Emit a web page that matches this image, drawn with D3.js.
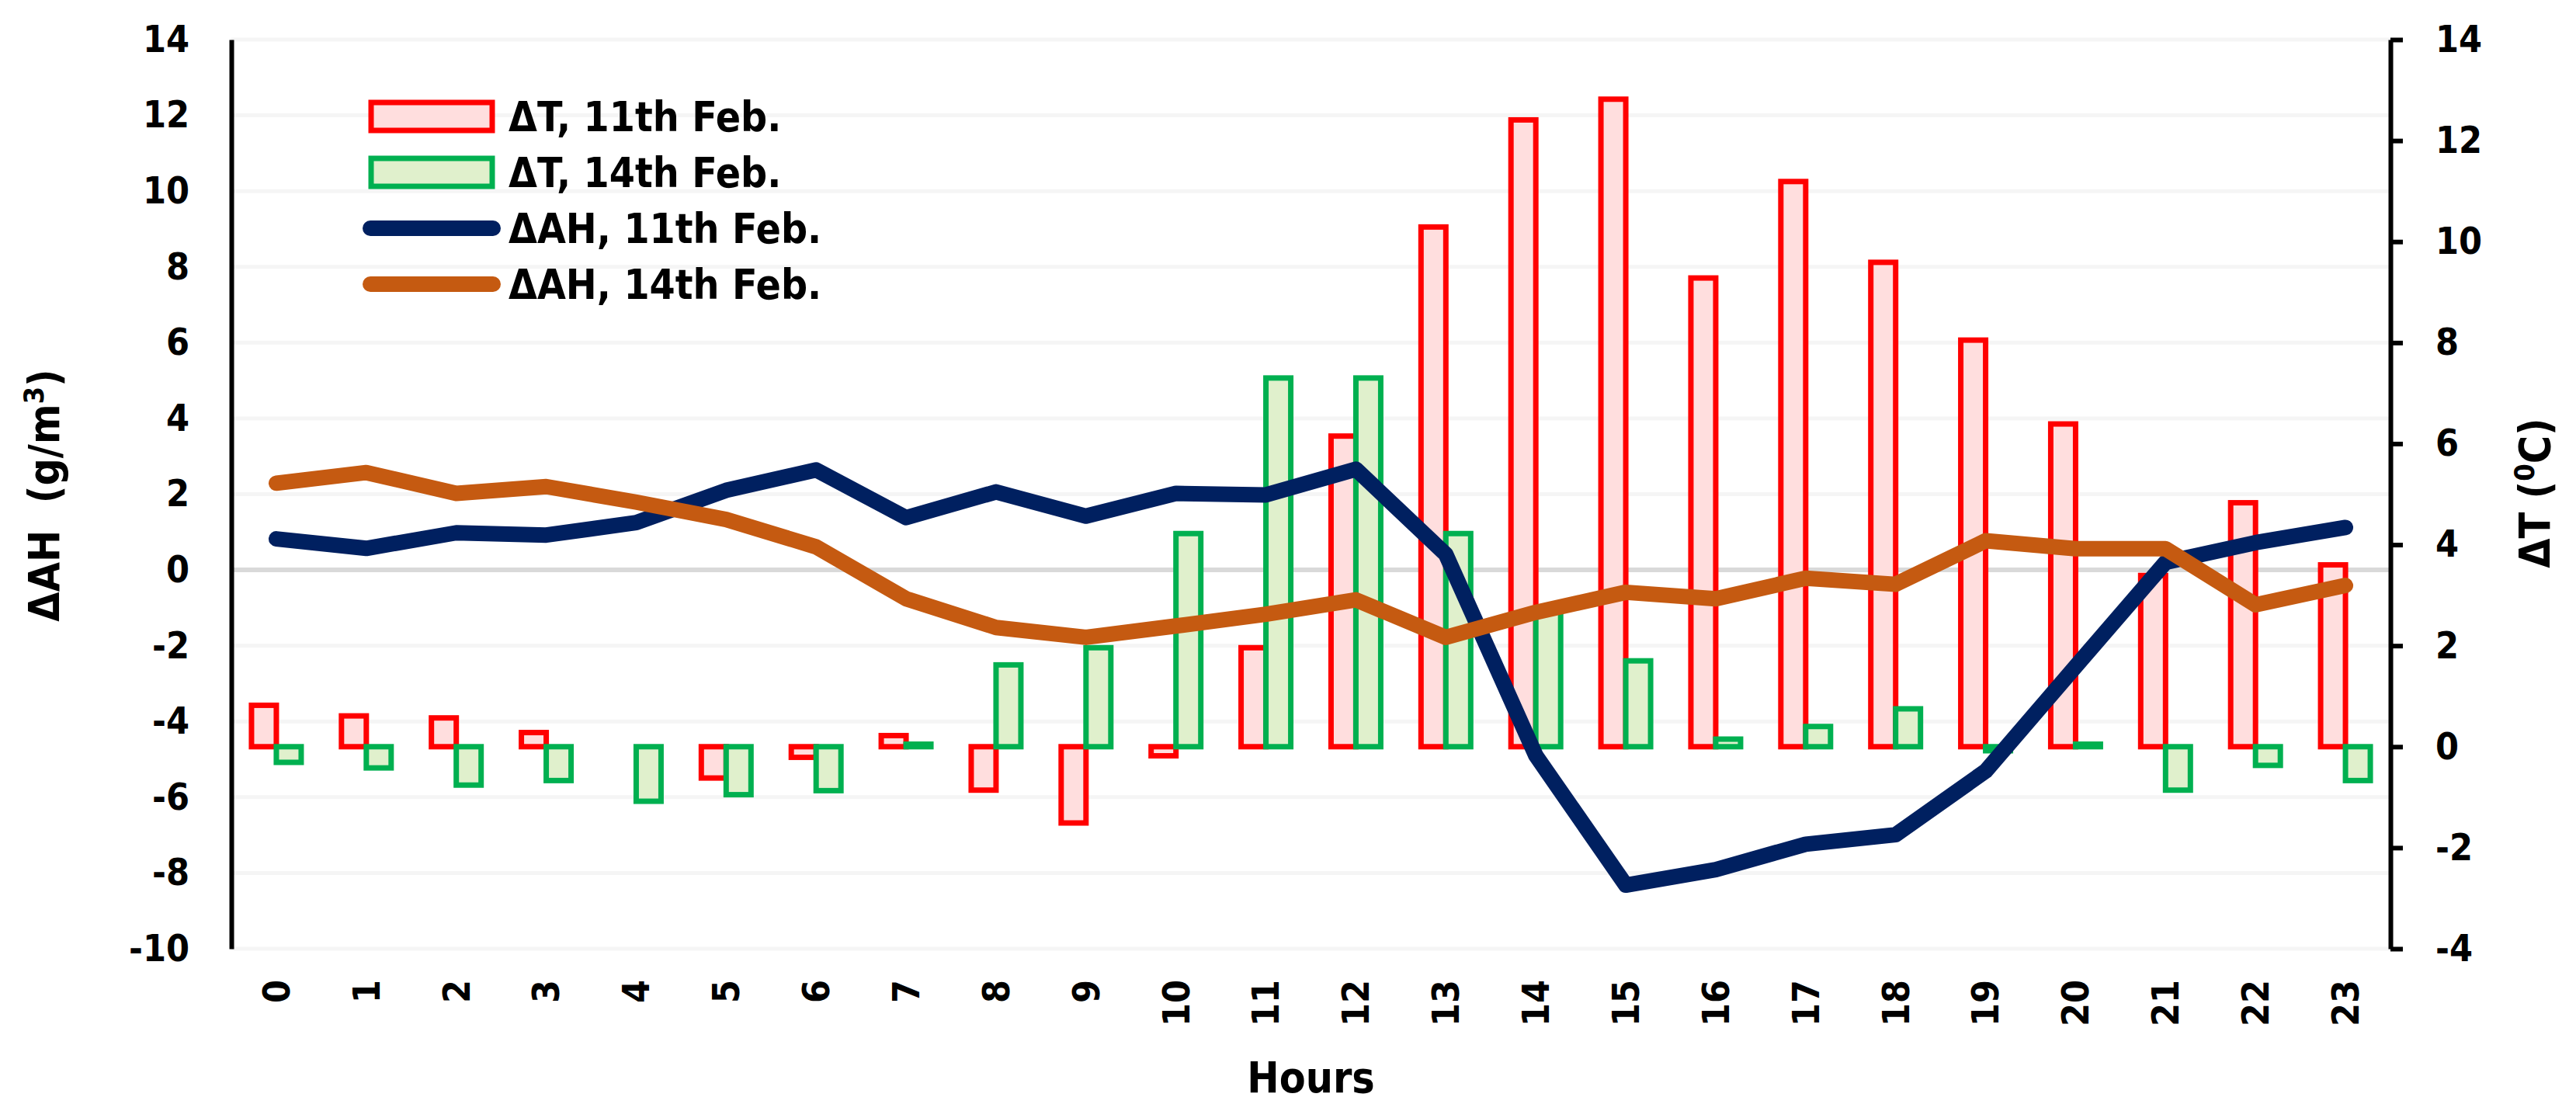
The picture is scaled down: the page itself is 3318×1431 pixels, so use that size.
<!DOCTYPE html>
<html>
<head>
<meta charset="utf-8">
<script src="https://cdn.jsdelivr.net/npm/d3@7"></script>
<style>
  body { margin: 0; background: #fff; }
  text { font-family: "DejaVu Sans Condensed", "DejaVu Sans", sans-serif; font-weight: bold; fill: #000; white-space: pre; }
</style>
</head>
<body>
<svg id="chart"></svg>
<script>
// hours on the x axis
var hours = d3.range(0, 24).map(String);

// bar series, right axis (deg C)
var dT11 = [0.82,0.61,0.57,0.28,0,-0.62,-0.21,0.22,-0.86,-1.51,-0.18,1.96,6.15,10.29,12.41,12.82,9.28,11.19,9.59,8.05,6.39,3.39,4.83,3.6];
var dT14 = [-0.31,-0.42,-0.76,-0.67,-1.08,-0.95,-0.87,0.05,1.62,1.96,4.22,7.30,7.30,4.22,2.7,1.7,0.15,0.40,0.75,-0.08,0.05,-0.86,-0.37,-0.67];

// line series, left axis (g/m3)
var dAH11 = [0.82,0.57,0.98,0.92,1.25,2.1,2.64,1.38,2.06,1.42,2.02,1.98,2.66,0.41,-4.9,-8.32,-7.91,-7.24,-6.99,-5.31,-2.55,0.2,0.72,1.12];
var dAH14 = [2.29,2.57,2.02,2.2,1.79,1.33,0.61,-0.76,-1.52,-1.78,-1.48,-1.17,-0.79,-1.78,-1.12,-0.59,-0.76,-0.22,-0.38,0.77,0.56,0.56,-0.92,-0.41];

var leftTicks = d3.range(-10, 15, 2);
var rightTicks = d3.range(-4, 15, 2);

var screen = {width:3318, height:1431};
var plot = {left:298, right:3079, top:51, bottom:1222};

var svg = d3.select("#chart")
    .attr("width", screen.width)
    .attr("height", screen.height);

var xScale = d3.scaleBand()
    .domain(hours)
    .range([plot.left, plot.right]);

var subScale = d3.scaleBand()
    .domain(["d11","d14"])
    .range([-32, 32]);

var yLeft = d3.scaleLinear()
    .domain([-10, 14])
    .range([plot.bottom, plot.top]);

var yRight = d3.scaleLinear()
    .domain([-4, 14])
    .range([plot.bottom, plot.top]);

// plain hyphen minus like the original
var fmt = function(d){ return String(d); };

//faint gridlines
svg.append("g")
    .selectAll("line")
    .data(leftTicks)
    .enter()
    .append("line")
    .attr("x1", plot.left)
    .attr("x2", plot.right)
    .attr("y1", function(d){ return yLeft(d); })
    .attr("y2", function(d){ return yLeft(d); })
    .attr("stroke", "#f5f5f5")
    .attr("stroke-width", 5);

//zero line
svg.append("line")
    .attr("x1", plot.left)
    .attr("x2", plot.right)
    .attr("y1", yLeft(0))
    .attr("y2", yLeft(0))
    .attr("stroke", "#d9d9d9")
    .attr("stroke-width", 6);

var barSeries = [
    {key:"d11", values:dT11, stroke:"#ff0000", fill:"#ffdede"},
    {key:"d14", values:dT14, stroke:"#00b050", fill:"#e0f0cc"}
];

barSeries.forEach(function(s)
{
    svg.append("g")
        .selectAll("rect")
        .data(s.values.map(function(v,i){ return {h:hours[i], v:v}; })
              .filter(function(d){ return d.v !== 0; }))
        .enter()
        .append("rect")
        .attr("x", function(d){ return xScale(d.h) + xScale.bandwidth()/2 + subScale(s.key); })
        .attr("width", subScale.bandwidth())
        .attr("y", function(d){ return Math.min(yRight(d.v), yRight(0)); })
        .attr("height", function(d){ return Math.abs(yRight(d.v) - yRight(0)); })
        .attr("fill", s.fill)
        .attr("stroke", s.stroke)
        .attr("stroke-width", 7);
});

var lineSeries = [
    {values:dAH11, color:"#002060"},
    {values:dAH14, color:"#c55a11"}
];

var line = d3.line()
    .x(function(d,i){ return xScale(hours[i]) + xScale.bandwidth()/2; })
    .y(function(d){ return yLeft(d); });

lineSeries.forEach(function(s)
{
    svg.append("path")
        .datum(s.values)
        .attr("d", line)
        .attr("fill", "none")
        .attr("stroke", s.color)
        .attr("stroke-width", 20)
        .attr("stroke-linejoin", "round")
        .attr("stroke-linecap", "round");
});

//axes
var leftAxis = svg.append("g")
    .attr("transform", "translate(" + plot.left + ",0)")
    .call(d3.axisLeft(yLeft).tickValues(leftTicks).tickFormat(fmt).tickSize(0).tickPadding(54));
leftAxis.select(".domain").attr("stroke", "#000").attr("stroke-width", 6);
leftAxis.selectAll("text").style("font-size", "48px");

var rightAxis = svg.append("g")
    .attr("transform", "translate(" + plot.right + ",0)")
    .call(d3.axisRight(yRight).tickValues(rightTicks).tickFormat(fmt).tickSize(16).tickSizeOuter(0).tickPadding(42));
rightAxis.select(".domain").attr("stroke", "#000").attr("stroke-width", 6);
rightAxis.selectAll(".tick line").attr("stroke", "#000").attr("stroke-width", 6);
rightAxis.selectAll("text").style("font-size", "48px");

var xAxis = svg.append("g")
    .attr("transform", "translate(0," + plot.bottom + ")")
    .call(d3.axisBottom(xScale).tickSize(0));
xAxis.select(".domain").remove();
xAxis.selectAll("text")
    .style("font-size", "48px")
    .attr("transform", "rotate(-90)")
    .attr("x", -40)
    .attr("y", 0)
    .attr("dy", "0.35em")
    .attr("text-anchor", "end");

//axis titles
var leftTitle = svg.append("text")
    .attr("transform", "translate(76,638) rotate(-90)")
    .attr("text-anchor", "middle")
    .style("font-size", "55px");
leftTitle.append("tspan").text("ΔAH  (g/m");
leftTitle.append("tspan").attr("baseline-shift", "super").style("font-size", "36px").text("3");
leftTitle.append("tspan").text(")");

var rightTitle = svg.append("text")
    .attr("transform", "translate(3284,635) rotate(-90)")
    .attr("text-anchor", "middle")
    .style("font-size", "55px");
rightTitle.append("tspan").text("ΔT (");
rightTitle.append("tspan").attr("baseline-shift", "super").style("font-size", "36px").text("0");
rightTitle.append("tspan").text("C)");

svg.append("text")
    .attr("x", (plot.left + plot.right)/2)
    .attr("y", 1407)
    .attr("text-anchor", "middle")
    .style("font-size", "55px")
    .text("Hours");

//legend
var legendItems = [
    {label:"ΔT, 11th Feb.", type:"bar", stroke:"#ff0000", fill:"#ffdede"},
    {label:"ΔT, 14th Feb.", type:"bar", stroke:"#00b050", fill:"#e0f0cc"},
    {label:"ΔAH, 11th Feb.", type:"line", stroke:"#002060"},
    {label:"ΔAH, 14th Feb.", type:"line", stroke:"#c55a11"}
];

var legend = svg.append("g")
    .selectAll("g")
    .data(legendItems)
    .enter()
    .append("g")
    .attr("transform", function(d,i){ return "translate(475," + (150 + i*72) + ")"; });

legend.filter(function(d){ return d.type == "bar"; })
    .append("rect")
    .attr("x", 3)
    .attr("y", -18)
    .attr("width", 156)
    .attr("height", 36)
    .attr("fill", function(d){ return d.fill; })
    .attr("stroke", function(d){ return d.stroke; })
    .attr("stroke-width", 7);

legend.filter(function(d){ return d.type == "line"; })
    .append("line")
    .attr("x1", 2)
    .attr("x2", 160)
    .attr("stroke", function(d){ return d.stroke; })
    .attr("stroke-width", 20)
    .attr("stroke-linecap", "round");

legend.append("text")
    .attr("x", 180)
    .attr("y", 0)
    .attr("dy", "0.36em")
    .style("font-size", "53px")
    .text(function(d){ return d.label; });
</script>
</body>
</html>
